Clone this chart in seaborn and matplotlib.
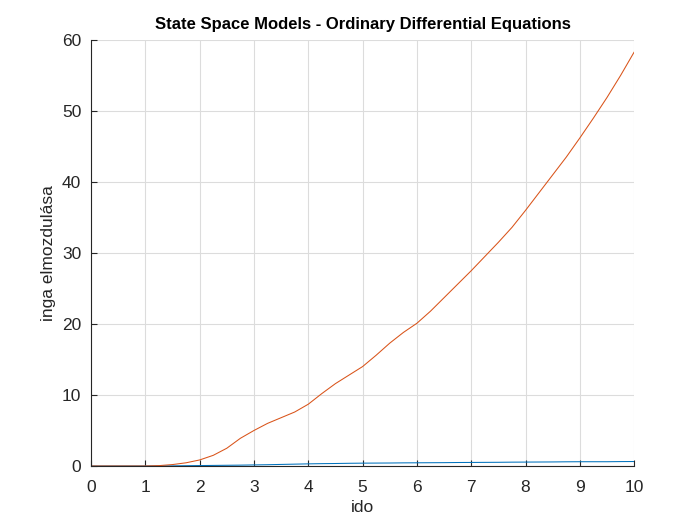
import matplotlib
matplotlib.use("Agg")
import matplotlib.pyplot as plt
import seaborn as sns
import pandas as pd

time = [0, 0.25, 0.5, 0.75, 1, 1.25, 1.5, 1.75, 2, 2.25, 2.5, 2.75, 3, 3.25, 3.5, 3.75,
        4, 4.25, 4.5, 4.75, 5, 5.25, 5.5, 5.75, 6, 6.25, 6.5, 6.75, 7, 7.25, 7.5, 7.75,
        8, 8.25, 8.5, 8.75, 9, 9.25, 9.5, 9.75, 10]
series1 = [0, 0, 0, 0, 0, 0.01, 0.02, 0.04, 0.06, 0.08, 0.1, 0.12, 0.15, 0.18, 0.22, 0.26,
           0.3, 0.33, 0.35, 0.38, 0.4, 0.41, 0.42, 0.44, 0.45, 0.46, 0.47, 0.49, 0.5, 0.51, 0.52, 0.54,
           0.55, 0.56, 0.57, 0.59, 0.6, 0.6, 0.6, 0.62, 0.63]
series2 = [0, 0, 0, 0, 0, 0.05, 0.2, 0.45, 0.85, 1.5, 2.5, 3.9, 5.0, 6.0, 6.8, 7.6,
           8.7, 10.2, 11.6, 12.8, 14.0, 15.6, 17.3, 18.8, 20.1, 21.8, 23.7, 25.6, 27.5, 29.5, 31.5, 33.6,
           36.0, 38.5, 41.0, 43.5, 46.2, 49.0, 51.9, 55.0, 58.3]
xticks = list(range(0, 11))
yticks = [0, 10, 20, 30, 40, 50, 60]

sns.set_theme(style="white")
plt.rcParams['font.family'] = ['Liberation Sans', 'DejaVu Sans']

df = pd.DataFrame({"t": time * 2, "v": series1 + series2,
                   "s": ["x1"] * len(time) + ["x2"] * len(time)})

fig = plt.figure(figsize=(7, 5.25), dpi=100)
ax = fig.add_axes([0.13, 0.1124, 0.776, 0.8116])
sns.lineplot(data=df, x="t", y="v", hue="s", palette=["#0072BD", "#D95319"],
             linewidth=0.75, legend=False, ax=ax)

ax.set_xlim(0, 10)
ax.set_ylim(0, 60)
ax.set_xticks(xticks)
ax.set_yticks(yticks)
ax.grid(True, color="#dcdcdc", linewidth=0.8)
ax.set_axisbelow(True)
for s in ["top", "right"]:
    ax.spines[s].set_visible(False)
for s in ["left", "bottom"]:
    ax.spines[s].set_color("#262626")
    ax.spines[s].set_linewidth(0.8)
ax.tick_params(direction="in", length=4, width=0.8, colors="#262626", labelsize=12.5,
               left=True, bottom=True)
ax.tick_params(axis="x", pad=10)
ax.tick_params(axis="y", pad=7)
ax.set_xlabel("ido", fontsize=12.5, color="#262626", labelpad=4)
ax.set_ylabel("inga elmozdulása", fontsize=12.5, color="#262626", labelpad=4)
ax.set_title("State Space Models - Ordinary Differential Equations", fontsize=12,
             fontweight="bold", color="black", pad=8)

fig.savefig("out.png", dpi=100)
